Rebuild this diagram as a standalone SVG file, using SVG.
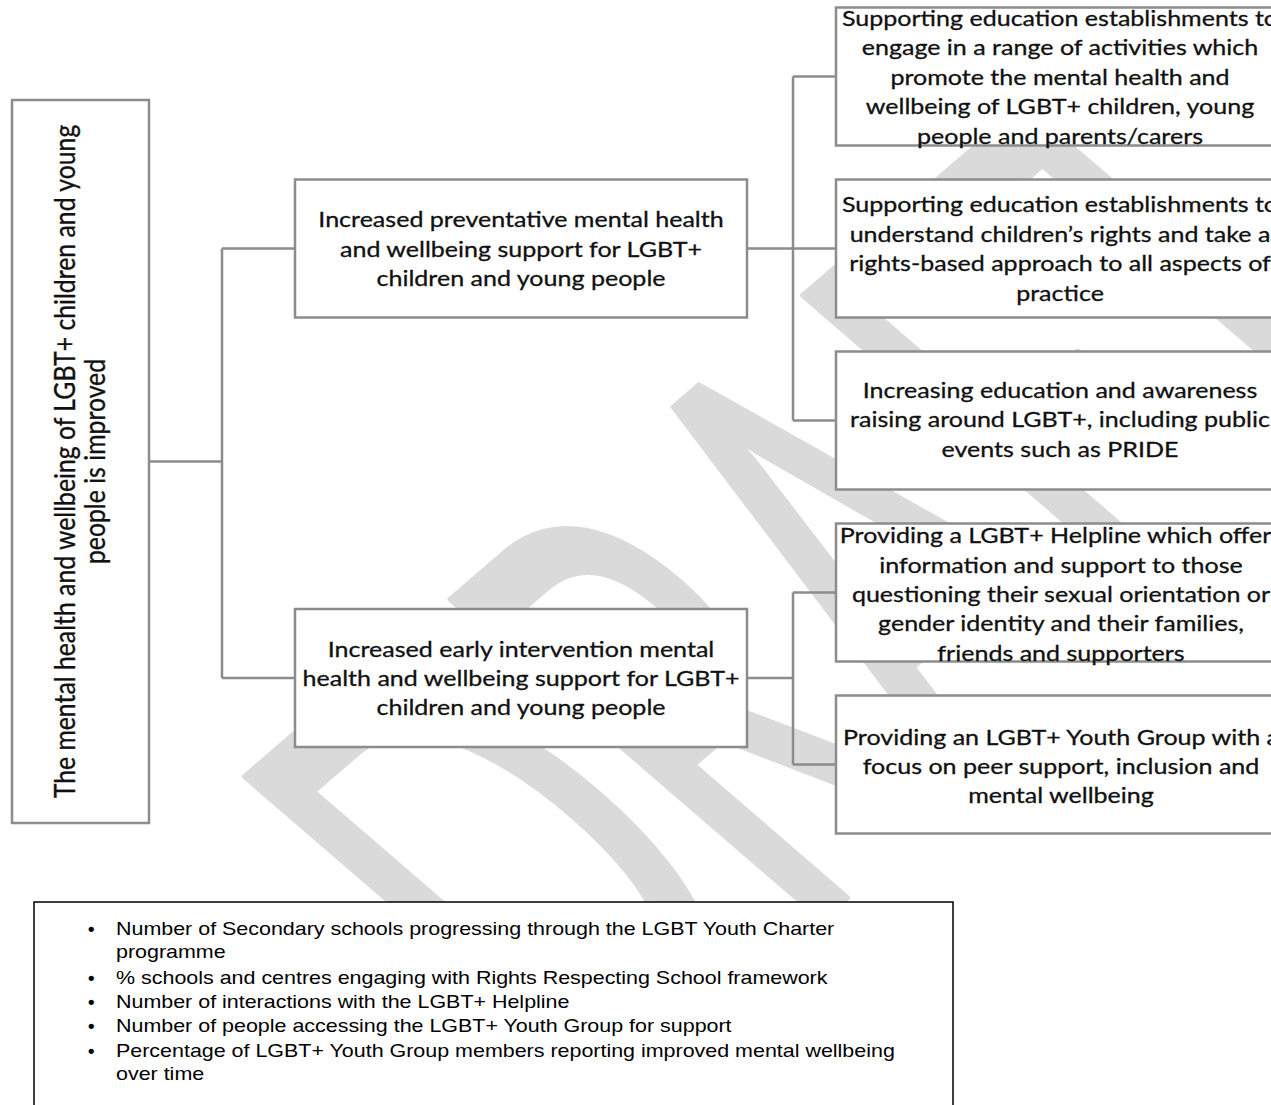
<svg xmlns="http://www.w3.org/2000/svg" width="1271" height="1105" viewBox="0 0 1271 1105">
<style>
.box{fill:#fff;stroke:#8c8c8c;stroke-width:2.5}
.conn{fill:none;stroke:#8c8c8c;stroke-width:2.5}
.t{font-family:Lato,"Open Sans",sans-serif;font-size:21.6px;fill:#111;stroke:#111;stroke-width:0.3;text-anchor:middle}
.root{font-size:24.8px}
.wm{font-family:Lato,"Open Sans",sans-serif;font-size:628px;fill:#dadada;stroke:#dadada;stroke-width:8;stroke-linejoin:round}
.kpi{font-family:"Liberation Sans",Arial,sans-serif;font-size:18.5px;fill:#000}
.bul{font-family:"Liberation Sans",Arial,sans-serif;font-size:18.5px;font-weight:bold;fill:#000}
.kbox{fill:#fff;stroke:#000;stroke-width:1.5}
</style>
<rect width="1271" height="1105" fill="#fff"/>
<g id="watermark"><text class="wm" transform="scale(1.16,1) translate(508.6,1117.5) rotate(-45) scale(0.525,1)">DRAFT</text></g>
<g id="connectors" class="conn">
<path d="M149,461.5H222 M222,248.5V678 M222,248.5H295 M222,678H295 M747,248.5H836 M793,76.5V420.5 M793,76.5H836 M793,420.5H836 M747,678H793 M793,592.5V764.5 M793,592.5H836 M793,764.5H836"/>
</g>
<g id="root">
<rect class="box" x="12" y="100" width="137" height="723"/>
<text class="t root" transform="scale(1.16,1) translate(0,461.5) rotate(-90)"><tspan x="0" y="64.7">The mental health and wellbeing of LGBT+ children and young</tspan><tspan x="0" y="90.5">people is improved</tspan></text>
</g>
<g id="preventative">
<rect class="box" x="295" y="179.5" width="452" height="138"/>
<text class="t" transform="matrix(1.16 0 0 1 521 0)"><tspan x="0" y="227.3">Increased preventative mental health</tspan><tspan x="0" y="256.8">and wellbeing support for LGBT+</tspan><tspan x="0" y="286.3">children and young people</tspan></text>
</g>
<g id="early">
<rect class="box" x="295" y="609" width="452" height="138"/>
<text class="t" transform="matrix(1.16 0 0 1 521 0)"><tspan x="0" y="656.7">Increased early intervention mental</tspan><tspan x="0" y="686">health and wellbeing support for LGBT+</tspan><tspan x="0" y="715.3">children and young people</tspan></text>
</g>
<g id="activities">
<rect class="box" x="836" y="7.5" width="450" height="138"/>
<text class="t" transform="matrix(1.16 0 0 1 1060 0)"><tspan x="0" y="26">Supporting education establishments to</tspan><tspan x="0" y="55.4">engage in a range of activities which</tspan><tspan x="0" y="84.8">promote the mental health and</tspan><tspan x="0" y="114.2">wellbeing of LGBT+ children, young</tspan><tspan x="0" y="143.6">people and parents/carers</tspan></text>
</g>
<g id="rights">
<rect class="box" x="836" y="179.5" width="450" height="138"/>
<text class="t" transform="matrix(1.16 0 0 1 1060 0)"><tspan x="0" y="212.5">Supporting education establishments to</tspan><tspan x="0" y="242">understand children’s rights and take a</tspan><tspan x="0" y="271.5">rights-based approach to all aspects of</tspan><tspan x="0" y="301">practice</tspan></text>
</g>
<g id="awareness">
<rect class="box" x="836" y="351.5" width="450" height="138"/>
<text class="t" transform="matrix(1.16 0 0 1 1060 0)"><tspan x="0" y="398">Increasing education and awareness</tspan><tspan x="0" y="427.5">raising around LGBT+, including public</tspan><tspan x="0" y="457">events such as PRIDE</tspan></text>
</g>
<g id="helpline">
<rect class="box" x="836" y="523.5" width="450" height="138"/>
<text class="t" transform="matrix(1.16 0 0 1 1061 0)"><tspan x="0" y="543.5">Providing a LGBT+ Helpline which offers</tspan><tspan x="0" y="572.8">information and support to those</tspan><tspan x="0" y="602">questioning their sexual orientation or</tspan><tspan x="0" y="631.3">gender identity and their families,</tspan><tspan x="0" y="660.6">friends and supporters</tspan></text>
</g>
<g id="youthgroup">
<rect class="box" x="836" y="695.5" width="450" height="138"/>
<text class="t" transform="matrix(1.16 0 0 1 1061 0)"><tspan x="0" y="745">Providing an LGBT+ Youth Group with a</tspan><tspan x="0" y="774">focus on peer support, inclusion and</tspan><tspan x="0" y="803">mental wellbeing</tspan></text>
</g>
<g id="indicators">
<rect class="kbox" x="34" y="902" width="919" height="230"/>
<text class="bul"><tspan x="88" y="935">•</tspan><tspan x="88" y="984">•</tspan><tspan x="88" y="1008">•</tspan><tspan x="88" y="1032">•</tspan><tspan x="88" y="1057">•</tspan></text>
<text class="kpi" transform="matrix(1.16 0 0 1 116 0)"><tspan x="0" y="935">Number of Secondary schools progressing through the LGBT Youth Charter</tspan><tspan x="0" y="958">programme</tspan><tspan x="0" y="984">% schools and centres engaging with Rights Respecting School framework</tspan><tspan x="0" y="1008">Number of interactions with the LGBT+ Helpline</tspan><tspan x="0" y="1032">Number of people accessing the LGBT+ Youth Group for support</tspan><tspan x="0" y="1057">Percentage of LGBT+ Youth Group members reporting improved mental wellbeing</tspan><tspan x="0" y="1080">over time</tspan></text>
</g>
</svg>
